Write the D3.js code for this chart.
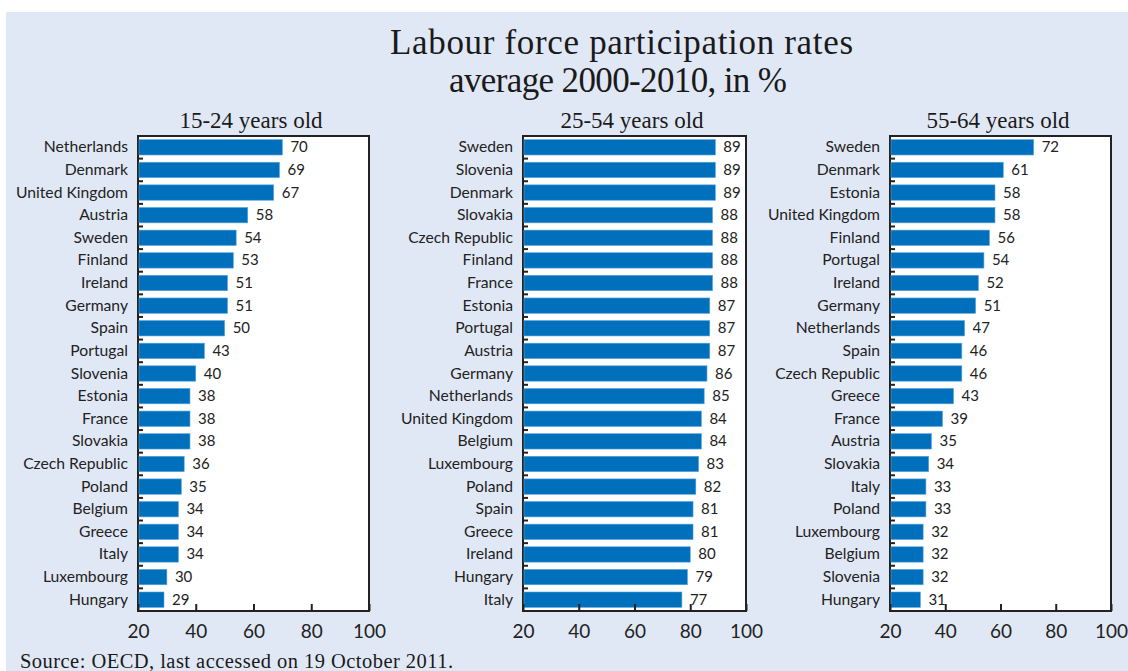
<!DOCTYPE html>
<html><head><meta charset="utf-8">
<script src="https://d3js.org/d3.v7.min.js"></script>
<style>body{margin:0;background:#fff}</style>
</head><body>
<script>
const titleLines = ["Labour force participation rates", "average 2000-2010, in %"];
const panelTitles = ["15-24 years old", "25-54 years old", "55-64 years old"];
const xTicks = [20, 40, 60, 80, 100];
const countries1 = ["Netherlands","Denmark","United Kingdom","Austria","Sweden","Finland","Ireland","Germany","Spain","Portugal","Slovenia","Estonia","France","Slovakia","Czech Republic","Poland","Belgium","Greece","Italy","Luxembourg","Hungary"];
const values1 = [70,69,67,58,54,53,51,51,50,43,40,38,38,38,36,35,34,34,34,30,29];
const countries2 = ["Sweden","Slovenia","Denmark","Slovakia","Czech Republic","Finland","France","Estonia","Portugal","Austria","Germany","Netherlands","United Kingdom","Belgium","Luxembourg","Poland","Spain","Greece","Ireland","Hungary","Italy"];
const values2 = [89,89,89,88,88,88,88,87,87,87,86,85,84,84,83,82,81,81,80,79,77];
const countries3 = ["Sweden","Denmark","Estonia","United Kingdom","Finland","Portugal","Ireland","Germany","Netherlands","Spain","Czech Republic","Greece","France","Austria","Slovakia","Italy","Poland","Luxembourg","Belgium","Slovenia","Hungary"];
const values3 = [72,61,58,58,56,54,52,51,47,46,46,43,39,35,34,33,33,32,32,32,31];
const sourceText = "Source: OECD, last accessed on 19 October 2011.";

(function(){
const W = 1128, H = 671;
const svg = d3.select("body").append("svg").attr("width", W).attr("height", H);
svg.append("rect").attr("x", 6).attr("y", 12).attr("width", W - 6).attr("height", H - 12).attr("fill", "#e1e8f5");

const serif = "Liberation Serif, Times New Roman, serif";
const sans = "Lato, Carlito, sans-serif";

svg.append("text").attr("x", 621.5).attr("y", 54).attr("text-anchor", "middle")
  .attr("font-family", serif).attr("font-size", 35).attr("fill", "#1a1a1a")
  .attr("textLength", 463).attr("lengthAdjust", "spacing").text(titleLines[0]);
svg.append("text").attr("x", 618).attr("y", 92).attr("text-anchor", "middle")
  .attr("font-family", serif).attr("font-size", 35).attr("fill", "#1a1a1a")
  .attr("textLength", 338).attr("lengthAdjust", "spacing").text(titleLines[1]);

const panels = [
  {x0: 138, x1: 369, cats: countries1, vals: values1, title: panelTitles[0]},
  {x0: 523, x1: 746, cats: countries2, vals: values2, title: panelTitles[1]},
  {x0: 890, x1: 1111, cats: countries3, vals: values3, title: panelTitles[2]}
];
const yTop = 136, yBottom = 611;

panels.forEach(p => {
  const g = svg.append("g");
  const x = d3.scaleLinear().domain([20, 100]).range([p.x0, p.x1]);
  const y = d3.scaleBand().domain(p.cats).range([yTop, yBottom]).paddingInner(0.32).paddingOuter(0.16);
  const yb = d3.scaleBand().domain(p.cats).range([yTop, yBottom]);
  g.append("rect").attr("x", p.x0).attr("y", yTop).attr("width", p.x1 - p.x0).attr("height", yBottom - yTop)
    .attr("fill", "#fff").attr("stroke", "#222").attr("stroke-width", 2);
  g.selectAll(".bar").data(p.cats).enter().append("rect")
    .attr("x", x(20) + 1).attr("y", d => y(d))
    .attr("width", (d, i) => x(p.vals[i]) - x(20) - 1).attr("height", y.bandwidth())
    .attr("fill", "#0070bd").attr("stroke", "#5aa5dc").attr("stroke-width", 0.6);
  g.selectAll(".val").data(p.cats).enter().append("text")
    .attr("x", (d, i) => x(p.vals[i]) + 8).attr("y", d => y(d) + y.bandwidth() / 2 + 5)
    .attr("font-family", sans).attr("font-size", 15).attr("fill", "#222")
    .text((d, i) => p.vals[i]);
  g.selectAll(".cat").data(p.cats).enter().append("text")
    .attr("x", p.x0 - 10).attr("y", d => y(d) + y.bandwidth() / 2 + 5).attr("text-anchor", "end")
    .attr("font-family", sans).attr("font-size", 15.7).attr("fill", "#222").text(d => d);
  g.selectAll(".ytick").data(p.cats.slice(1)).enter().append("line")
    .attr("x1", p.x0).attr("x2", p.x0 + 5).attr("y1", d => yb(d)).attr("y2", d => yb(d))
    .attr("stroke", "#222").attr("stroke-width", 2);
  const ax = g.append("g").attr("transform", `translate(0,${yBottom})`)
    .call(d3.axisBottom(x).tickValues(xTicks).tickSizeInner(-7).tickSizeOuter(0).tickPadding(14));
  ax.select(".domain").remove();
  ax.selectAll("line").attr("stroke", "#222").attr("stroke-width", 2);
  ax.selectAll("text").attr("font-family", sans).attr("font-size", 19).attr("fill", "#222");
  g.append("text").attr("x", (p.x0 + p.x1) / 2 - 2.5).attr("y", 128).attr("text-anchor", "middle")
    .attr("font-family", serif).attr("font-size", 23).attr("fill", "#1a1a1a").text(p.title);
});

svg.append("text").attr("x", 20).attr("y", 668).attr("font-family", serif).attr("font-size", 20.5)
  .attr("fill", "#1a1a1a").attr("textLength", 433).attr("lengthAdjust", "spacing").text(sourceText);
})();
</script>
</body></html>
